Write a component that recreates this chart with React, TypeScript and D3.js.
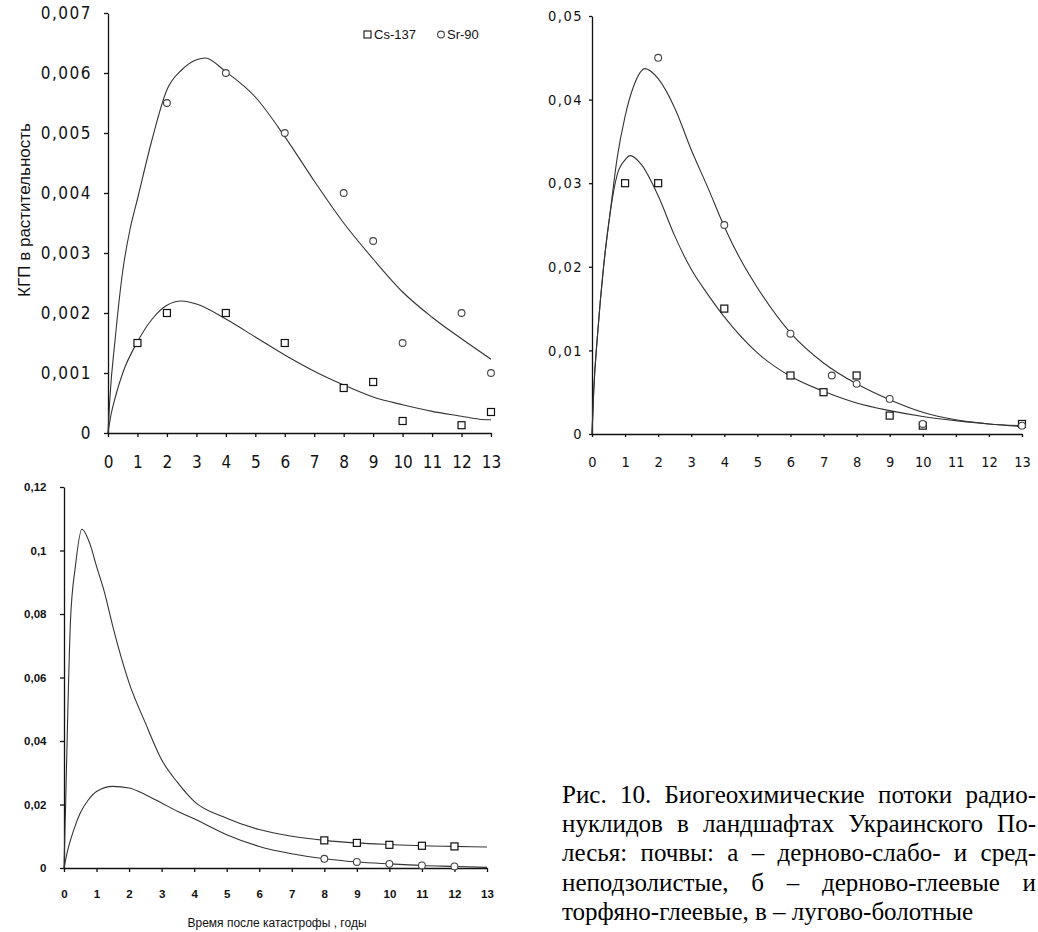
import React, { useEffect, useRef } from "react";
import * as d3 from "d3";

const W = 1038;
const H = 932;

const xTicks = [0, 1, 2, 3, 4, 5, 6, 7, 8, 9, 10, 11, 12, 13];
const legendLabels = ["Cs-137", "Sr-90"];
const yTitle = "КГП в растительность";
const xTitle = "Время после катастрофы , годы";

// панель а
const aYTicks = [0, 0.001, 0.002, 0.003, 0.004, 0.005, 0.006, 0.007];
const aCsYears = [1, 2, 4, 6, 8, 9, 10, 12, 13];
const aCsValues = [0.0015, 0.002, 0.002, 0.0015, 0.00075, 0.00085, 0.0002, 0.00013, 0.00035];
const aSrYears = [2, 4, 6, 8, 9, 10, 12, 13];
const aSrValues = [0.0055, 0.006, 0.005, 0.004, 0.0032, 0.0015, 0.002, 0.001];
const aCsFitYears = [0, 0.1, 0.25, 0.5, 1, 1.5, 2, 2.5, 3, 4, 5, 6, 7, 8, 9, 10, 11, 12, 12.6, 13];
const aCsFitValues = [0, 0.0003, 0.0006, 0.001, 0.00152, 0.0019, 0.00213, 0.0022, 0.00215, 0.0019, 0.0016, 0.0013, 0.00103, 0.0008, 0.0006, 0.00047, 0.00036, 0.00028, 0.00023, 0.00022];
const aSrFitYears = [0, 0.06, 0.25, 0.5, 0.75, 1, 1.5, 2, 2.5, 3, 3.3, 4, 5, 6, 7, 8, 9, 10, 11, 12, 13];
const aSrFitValues = [0, 0.00055, 0.0016, 0.0027, 0.0034, 0.0039, 0.0049, 0.00572, 0.00605, 0.00622, 0.00625, 0.00602, 0.0056, 0.00494, 0.0042, 0.0035, 0.0029, 0.00235, 0.00193, 0.00157, 0.00123];

// панель б
const bYTicks = [0, 0.01, 0.02, 0.03, 0.04, 0.05];
const bCsYears = [1, 2, 4, 6, 7, 8, 9, 10, 13];
const bCsValues = [0.03, 0.03, 0.015, 0.007, 0.005, 0.007, 0.0022, 0.001, 0.0012];
const bSrYears = [2, 4, 6, 7.25, 8, 9, 10, 13];
const bSrValues = [0.045, 0.025, 0.012, 0.007, 0.006, 0.0042, 0.0012, 0.001];
const bCsFitYears = [0, 0.05, 0.17, 0.35, 0.55, 0.76, 1, 1.15, 1.5, 2, 2.5, 3, 3.5, 4, 5, 6, 7, 8, 9, 10, 11, 12, 13];
const bCsFitValues = [0, 0.005, 0.012, 0.02, 0.0265, 0.031, 0.0328, 0.0333, 0.0322, 0.0285, 0.0237, 0.0197, 0.0167, 0.014, 0.0097, 0.0069, 0.0051, 0.0037, 0.0028, 0.0021, 0.0016, 0.0012, 0.001];
const bSrFitYears = [0, 0.05, 0.17, 0.35, 0.55, 0.76, 1, 1.25, 1.6, 2, 2.5, 3, 3.5, 4, 4.5, 5, 6, 7, 8, 9, 10, 11, 12, 13];
const bSrFitValues = [0, 0.005, 0.012, 0.02, 0.0265, 0.033, 0.038, 0.0415, 0.0437, 0.0425, 0.039, 0.034, 0.0295, 0.0248, 0.0208, 0.0175, 0.0121, 0.0085, 0.006, 0.0041, 0.0026, 0.0017, 0.0012, 0.0009];

// панель в
const cYTicks = [0, 0.02, 0.04, 0.06, 0.08, 0.1, 0.12];
const cCsYears = [8, 9, 10, 11, 12];
const cCsValues = [0.0087, 0.0079, 0.0073, 0.007, 0.0068];
const cSrYears = [8, 9, 10, 11, 12];
const cSrValues = [0.0029, 0.0019, 0.0013, 0.0008, 0.0005];
const cCsFitYears = [0, 0.05, 0.1, 0.2, 0.35, 0.55, 0.8, 1, 1.25, 1.5, 2, 2.5, 3, 3.5, 4, 5, 6, 7, 8, 9, 10, 11, 12, 13];
const cCsFitValues = [0, 0.02, 0.042, 0.078, 0.095, 0.1067, 0.102, 0.095, 0.0866, 0.0761, 0.0583, 0.0457, 0.0341, 0.0268, 0.021, 0.0157, 0.0121, 0.01, 0.0087, 0.0079, 0.0074, 0.007, 0.0068, 0.0066];
const cSrFitYears = [0, 0.1, 0.3, 0.5, 0.75, 1, 1.5, 2, 2.5, 3, 3.5, 4, 5, 6, 7, 8, 9, 10, 11, 12, 13];
const cSrFitValues = [0, 0.005, 0.012, 0.0173, 0.0215, 0.0241, 0.0257, 0.0252, 0.0231, 0.0205, 0.0178, 0.0155, 0.0105, 0.0068, 0.0045, 0.0029, 0.0019, 0.0013, 0.0008, 0.0005, 0.0002];

const captionLines = [
  "Рис. 10. Биогеохимические потоки радио-",
  "нуклидов в ландшафтах Украинского По-",
  "лесья: почвы: а – дерново-слабо- и сред-",
  "неподзолистые, б – дерново-глеевые и",
  "торфяно-глеевые, в – лугово-болотные",
];

const NARROW = "'Liberation Sans Narrow', 'DejaVu Sans Condensed', 'Liberation Sans', Arial, sans-serif";
const SANS = "'Liberation Sans', Arial, sans-serif";
const SERIF = "'Liberation Serif', 'Times New Roman', serif";

const ru = d3.formatLocale({ decimal: ",", thousands: " ", grouping: [3], currency: ["", ""] });

const panels = [
  {
    left: 108, right: 491, top: 13, bottom: 433, yMax: 0.007, yTicks: aYTicks, fmt: ".3~f",
    family: NARROW, font: 17, weight: "normal", tick: 4, yPad: 12, xPad: 19, ySpacing: 1.5,
    series: [
      { px: aCsYears, py: aCsValues, fx: aCsFitYears, fy: aCsFitValues, mark: "square" },
      { px: aSrYears, py: aSrValues, fx: aSrFitYears, fy: aSrFitValues, mark: "circle" },
    ],
  },
  {
    left: 592, right: 1022, top: 16, bottom: 434, yMax: 0.05, yTicks: bYTicks, fmt: ".2~f",
    family: NARROW, font: 14.5, weight: "normal", tick: 3, yPad: 6, xPad: 19.5, ySpacing: 1.5,
    series: [
      { px: bCsYears, py: bCsValues, fx: bCsFitYears, fy: bCsFitValues, mark: "square" },
      { px: bSrYears, py: bSrValues, fx: bSrFitYears, fy: bSrFitValues, mark: "circle" },
    ],
  },
  {
    left: 64, right: 487, top: 487, bottom: 868, yMax: 0.12, yTicks: cYTicks, fmt: ".2~f",
    family: SANS, font: 11.5, weight: "bold", tick: 4, yPad: 13.5, xPad: 17.5, ySpacing: 0,
    series: [
      { px: cCsYears, py: cCsValues, fx: cCsFitYears, fy: cCsFitValues, mark: "square" },
      { px: cSrYears, py: cSrValues, fx: cSrFitYears, fy: cSrFitValues, mark: "circle" },
    ],
  },
];

export default function App() {
  const ref = useRef<SVGSVGElement>(null);

  useEffect(() => {
    document.body.style.margin = "0";
    const svg = d3.select(ref.current);
    svg.selectAll("*").remove();

    panels.forEach((p) => {
      const x = d3.scaleLinear().domain([0, 13]).range([p.left, p.right]);
      const y = d3.scaleLinear().domain([0, p.yMax]).range([p.bottom, p.top]);
      const fmt = ru.format(p.fmt);
      const g = svg.append("g");

      const yAxis = g
        .append("g")
        .attr("transform", "translate(" + p.left + ",0)")
        .call(
          d3.axisLeft(y).tickValues(p.yTicks).tickSize(p.tick).tickSizeOuter(0).tickPadding(p.yPad)
            .tickFormat((d) => fmt(+d))
        );
      const xAxis = g
        .append("g")
        .attr("transform", "translate(0," + p.bottom + ")")
        .call(
          d3.axisBottom(x).tickValues(xTicks).tickSize(p.tick).tickSizeOuter(0).tickPadding(p.xPad)
            .tickFormat((d) => String(d))
        );
      [yAxis, xAxis].forEach((ax) => {
        ax.attr("font-family", p.family).attr("font-size", p.font).attr("font-weight", p.weight).attr("color", "#000");
        ax.selectAll("path, line").attr("stroke", "#111").attr("stroke-width", 1.3);
        ax.selectAll("text").attr("fill", "#111");
      });
      yAxis.selectAll("text").style("letter-spacing", p.ySpacing + "px");

      p.series.forEach((s) => {
        g.append("path")
          .datum(s.fy)
          .attr("fill", "none")
          .attr("stroke", "#333")
          .attr("stroke-width", 1.1)
          .attr(
            "d",
            d3.line<number>()
              .x((d, i) => x(s.fx[i]))
              .y((d) => y(d))
              .curve(d3.curveMonotoneX)
          );
      });

      p.series.forEach((s) => {
        const pts = s.py.map((v, i) => ({ t: s.px[i], v }));
        if (s.mark === "square") {
          g.selectAll(null)
            .data(pts)
            .enter()
            .append("rect")
            .attr("x", (d) => x(d.t) - 3.5)
            .attr("y", (d) => y(d.v) - 3.5)
            .attr("width", 7)
            .attr("height", 7)
            .attr("fill", "#fff")
            .attr("stroke", "#111")
            .attr("stroke-width", 1.2);
        } else {
          g.selectAll(null)
            .data(pts)
            .enter()
            .append("circle")
            .attr("cx", (d) => x(d.t))
            .attr("cy", (d) => y(d.v))
            .attr("r", 3.4)
            .attr("fill", "#fff")
            .attr("stroke", "#444")
            .attr("stroke-width", 1.1);
        }
      });
    });

    // подпись оси Y (панель а)
    svg.append("text")
      .attr("transform", "translate(30,210) rotate(-90)")
      .attr("text-anchor", "middle")
      .attr("font-family", SANS)
      .attr("font-size", 17)
      .attr("fill", "#111")
      .text(yTitle);

    // легенда
    const lg = svg.append("g").attr("font-family", SANS).attr("font-size", 13).attr("fill", "#111");
    lg.append("rect").attr("x", 364).attr("y", 31).attr("width", 7).attr("height", 7)
      .attr("fill", "#fff").attr("stroke", "#111").attr("stroke-width", 1.1);
    lg.append("text").attr("x", 374).attr("y", 39).text(legendLabels[0]);
    lg.append("circle").attr("cx", 441).attr("cy", 34.5).attr("r", 3.4)
      .attr("fill", "#fff").attr("stroke", "#444").attr("stroke-width", 1.1);
    lg.append("text").attr("x", 447).attr("y", 39).text(legendLabels[1]);

    // подпись оси X (панель в)
    svg.append("text")
      .attr("x", 277)
      .attr("y", 927)
      .attr("text-anchor", "middle")
      .attr("font-family", SANS)
      .attr("font-size", 12)
      .attr("fill", "#111")
      .text(xTitle);

    // подпись к рисунку, выровненная по ширине
    const capLeft = 562, capRight = 1036, capTop = 803, capStep = 29.2;
    const cap = svg.append("g").attr("font-family", SERIF).attr("font-size", 25).attr("fill", "#000");
    captionLines.forEach((line, i) => {
      const t = cap.append("text").attr("x", capLeft).attr("y", capTop + i * capStep).text(line);
      if (i < captionLines.length - 1) {
        const w = (t.node() as SVGTextElement).getComputedTextLength();
        const gaps = line.split(" ").length - 1;
        t.style("word-spacing", (capRight - capLeft - w) / gaps + "px");
      }
    });
  }, []);

  return (
    <svg
      ref={ref}
      width={W}
      height={H}
      style={{ display: "block", background: "#fff" }}
    />
  );
}
